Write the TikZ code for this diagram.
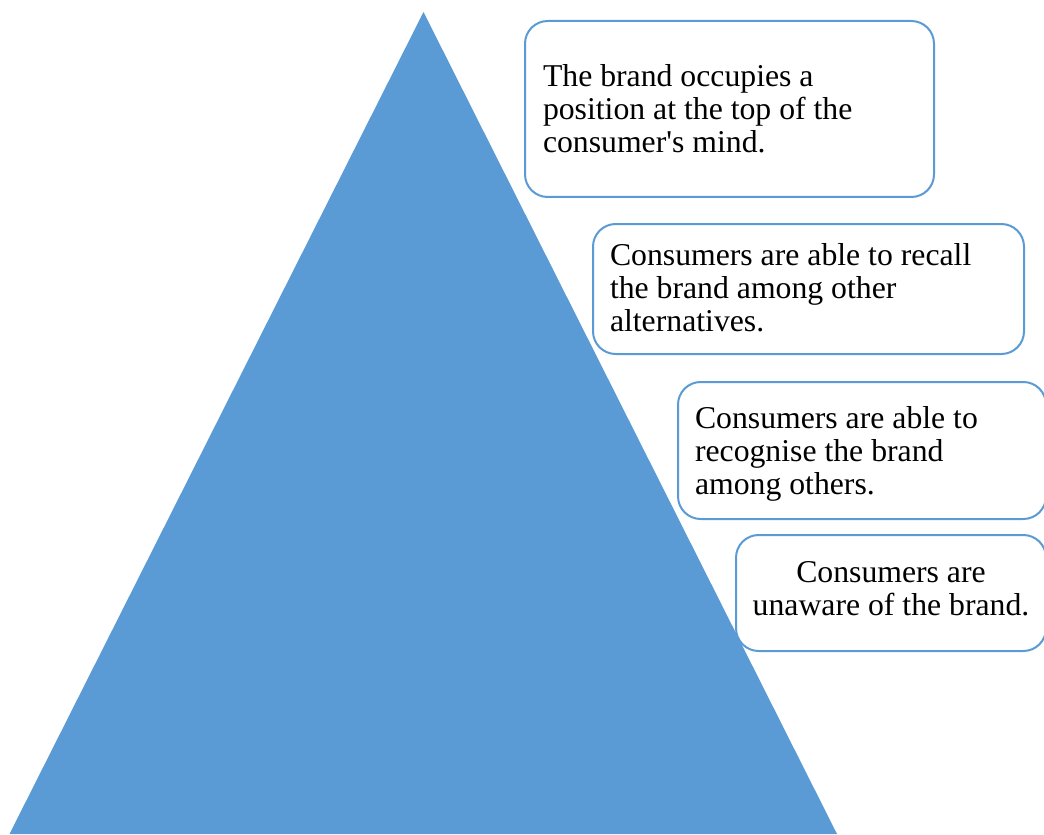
\documentclass[tikz,border=0pt]{standalone}
\usepackage{fontspec}
\setmainfont{Liberation Serif}[Ligatures=TeXOff]
\definecolor{pyrblue}{HTML}{5B9BD5}
\begin{document}
\begin{tikzpicture}[x=0.75pt,y=-0.75pt,
  box/.style={draw=pyrblue, line width=1.5pt, fill=white, rounded corners=17pt,
    inner sep=0pt, outer sep=0pt},
  label/.style={inner sep=0pt, outer sep=0pt, text=black,
    font=\fontsize{23.8}{24.75}\selectfont},
]
\useasboundingbox (0,0) rectangle (1044,834);
% pyramid
\fill[pyrblue] (423.5,12) -- (837,834) -- (9.5,834) -- cycle;
% boxes
\node[box, minimum width=306.75pt, minimum height=132pt] (b1) at (729.5,109) {};
\node[box, minimum width=323.25pt, minimum height=97.5pt] (b2) at (808.5,289) {};
\node[box, minimum width=276pt, minimum height=102.75pt] (b3) at (862,450.5) {};
\node[box, minimum width=232.5pt, minimum height=87pt] (b4) at (891,593) {};
% texts
\node[label, anchor=north west, align=left] (t1) at (543,64.5)
  {The brand occupies a\\position at the top of the\\consumer's mind.};
\node[label, anchor=north west, align=left] (t2) at (610,243.5)
  {Consumers are able to recall\\the brand among other\\alternatives.};
\node[label, anchor=north west, align=left] (t3) at (695,406.5)
  {Consumers are able to\\recognise the brand\\among others.};
\node[label, anchor=north, align=center] (t4) at (891,561.5)
  {Consumers are\\unaware of the brand.};
\end{tikzpicture}
\end{document}
